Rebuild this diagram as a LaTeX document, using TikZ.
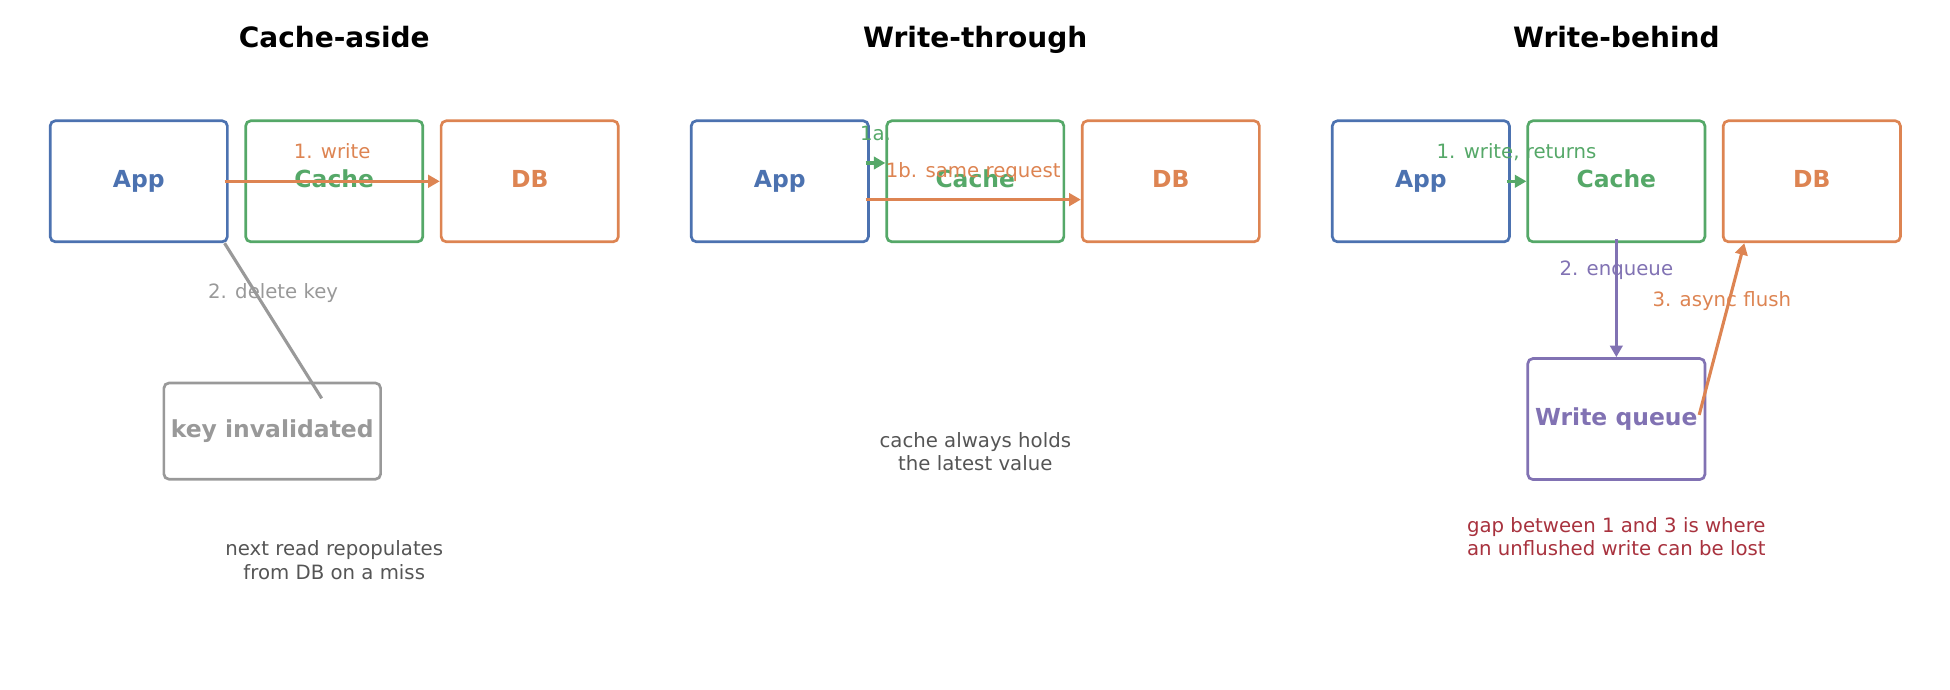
\documentclass[tikz,border=0pt]{standalone}
\usepackage{fontspec}
\setmainfont{DejaVu Sans}
\usetikzlibrary{positioning,arrows.meta}
\definecolor{cblue}{HTML}{4C72B0}
\definecolor{cgreen}{HTML}{55A868}
\definecolor{corange}{HTML}{DD8452}
\definecolor{cpurple}{HTML}{8172B3}
\definecolor{cgray}{HTML}{999999}
\definecolor{cnote}{HTML}{555555}
\definecolor{cred}{HTML}{A8323E}

\begin{document}
\begin{tikzpicture}[
    box/.style={draw=#1, text=#1, line width=1.3pt, rounded corners=2.5pt,
                minimum width=3cm, minimum height=2.05cm,
                font=\fontsize{11.3}{13.5}\selectfont\bfseries,
                text height=8.4pt, text depth=2pt},
    flow/.style={-{Triangle[length=5.6pt, width=6pt]}, line width=1.5pt, draw=#1},
    lbl/.style={font=\fontsize{9.5}{11.3}\selectfont, text=#1, inner sep=0pt,
                text depth=0pt},
    note/.style={font=\fontsize{9.5}{11.3}\selectfont, text=#1, align=center,
                 inner sep=0pt},
    ttl/.style={font=\fontsize{13.5}{16}\selectfont\bfseries, anchor=base},
  ]
    \useasboundingbox (0,0) rectangle (33.02,-11.684);

    % Titles
    \node[ttl] (t1) at (5.66,-0.808)   {Cache-aside};
    \node[ttl] (t2) at (16.515,-0.808) {Write-through};
    \node[ttl] (t3) at (27.37,-0.808)  {Write-behind};

    % Cache-aside
    \node[box=cblue]   (app1)   at (2.35,-3.07) {App};
    \node[box=cgreen]  (cache1) at (5.66,-3.07) {Cache};
    \node[box=corange] (db1)    at (8.97,-3.07) {DB};
    \node[box=cgray, minimum width=3.67cm, minimum height=1.63cm]
          (key) at (4.61,-7.30) {key invalidated};
    \coordinate (keyend) at (5.447,-6.745);
    \draw[flow=corange] ([xshift=-2pt]app1.east) -- node[lbl=corange, above=10pt] {1. write} (db1.west);
    \draw[cgray, line width=1.5pt] ([xshift=-2pt]app1.south east)
          -- node[lbl=cgray, above=10pt] {2. delete key} (keyend);
    \node[note=cnote] (n1) at (5.66,-9.486) {next read repopulates\\from DB on a miss};

    % Write-through
    \node[box=cblue]   (app2)   at (13.205,-3.07) {App};
    \node[box=cgreen]  (cache2) at (16.515,-3.07) {Cache};
    \node[box=corange] (db2)    at (19.825,-3.07) {DB};
    \draw[flow=cgreen] ([xshift=-2pt, yshift=0.31cm]app2.east)
          -- node[lbl=cgreen, above=10pt] {1a.} ([yshift=0.31cm]cache2.west);
    \draw[flow=corange] ([xshift=-2pt, yshift=-0.31cm]app2.east)
          -- node[lbl=corange, above=10pt] {1b. same request} ([yshift=-0.31cm]db2.west);
    \node[note=cnote] (n2) at (16.515,-7.65) {cache always holds\\the latest value};

    % Write-behind
    \node[box=cblue]   (app3)   at (24.06,-3.07) {App};
    \node[box=cgreen]  (cache3) at (27.37,-3.07) {Cache};
    \node[box=corange] (db3)    at (30.68,-3.07) {DB};
    \node[box=cpurple, below=1.93cm of cache3] (queue) {Write queue};
    \draw[flow=cgreen] ([xshift=-2pt]app3.east) -- node[lbl=cgreen, above=10pt] {1. write, returns} (cache3.west);
    \draw[flow=cpurple] ([yshift=2pt]cache3.south) -- node[lbl=cpurple, above=10pt] {2. enqueue} (queue.north);
    \draw[flow=corange] ([xshift=-0.12cm, yshift=0.07cm]queue.east)
          -- node[lbl=corange, above=10pt] {3. async flush} ([xshift=0.38cm]db3.south west);
    \node[note=cred] (n3) at (27.37,-9.085) {gap between 1 and 3 is where\\an unflushed write can be lost};
\end{tikzpicture}
\end{document}
